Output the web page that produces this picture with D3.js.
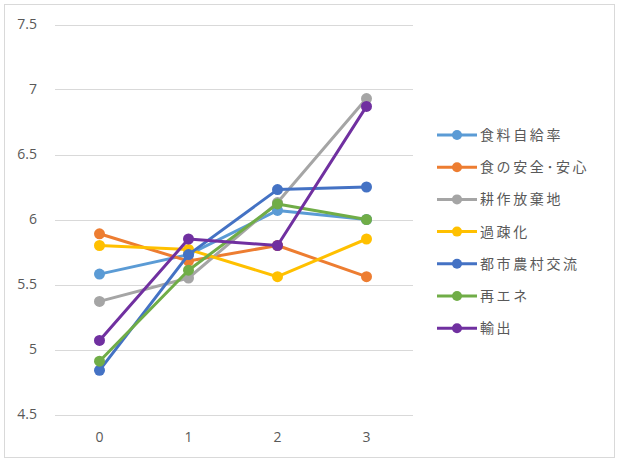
<!DOCTYPE html>
<html lang="ja">
<head>
    <meta charset="UTF-8">
    <title>Line chart</title>
    <script src="https://d3js.org/d3.v7.min.js"></script>
    <style>
        body { margin: 0; background: #fff; }
        .grid line { stroke: #d9d9d9; stroke-width: 1; }
        .axis text { fill: #595959; font-family: "Open Sans", "Liberation Sans", sans-serif; font-size: 14px; }
        .legend text { fill: #595959; font-family: "Noto Sans CJK JP", sans-serif; font-size: 14px; letter-spacing: 2.6px; }
    </style>
</head>
<body>
    <svg width="618" height="461"></svg>

    <script>
        // Data
        const categories = [0, 1, 2, 3];
        const seriesNames = ["食料自給率", "食の安全･安心", "耕作放棄地", "過疎化", "都市農村交流", "再エネ", "輸出"];
        const seriesColors = ["#5b9bd5", "#ed7d31", "#a5a5a5", "#ffc000", "#4472c4", "#70ad47", "#7030a0"];
        const foodSelfSufficiency = [5.58, 5.73, 6.07, 6.00];
        const foodSafety = [5.89, 5.68, 5.80, 5.56];
        const abandonedFarmland = [5.37, 5.55, 6.13, 6.93];
        const depopulation = [5.80, 5.77, 5.56, 5.85];
        const urbanRuralExchange = [4.84, 5.73, 6.23, 6.25];
        const renewableEnergy = [4.91, 5.61, 6.12, 6.00];
        const exportValues = [5.07, 5.85, 5.80, 6.87];
        const yTicks = [4.5, 5, 5.5, 6, 6.5, 7, 7.5];

        const allSeries = [foodSelfSufficiency, foodSafety, abandonedFarmland, depopulation,
            urbanRuralExchange, renewableEnergy, exportValues];

        const svg = d3.select("svg");

        // Chart frame
        svg.append("rect")
            .attr("x", 4.5).attr("y", 4.5)
            .attr("width", 610).attr("height", 453)
            .attr("fill", "none")
            .attr("stroke", "#d9d9d9");

        const plot = { left: 55, right: 411, top: 24.5, bottom: 414.5 };

        const x = d3.scaleBand().domain(categories).range([plot.left, plot.right]);
        const y = d3.scaleLinear().domain([4.5, 7.5]).range([plot.bottom, plot.top]);
        const cx = d => x(d) + x.bandwidth() / 2;

        // Gridlines
        svg.append("g").attr("class", "grid")
            .selectAll("line")
            .data(yTicks)
            .enter().append("line")
            .attr("x1", plot.left).attr("x2", 413)
            .attr("y1", d => Math.round(y(d)) + 0.5)
            .attr("y2", d => Math.round(y(d)) + 0.5);

        // Y axis labels
        const yAxis = d3.axisLeft(y).tickValues(yTicks).tickFormat(d3.format("~g")).tickSize(0).tickPadding(0);
        svg.append("g").attr("class", "axis")
            .attr("transform", "translate(37,0)")
            .call(yAxis)
            .call(g => g.select(".domain").remove());

        // X axis labels
        const xAxis = d3.axisBottom(x).tickSize(0).tickPadding(0);
        svg.append("g").attr("class", "axis")
            .attr("transform", "translate(0,432)")
            .call(xAxis)
            .call(g => g.select(".domain").remove());

        // Lines and markers
        const line = d3.line()
            .x((d, i) => cx(categories[i]))
            .y(d => y(d));

        allSeries.forEach((values, s) => {
            const g = svg.append("g");
            g.append("path")
                .datum(values)
                .attr("fill", "none")
                .attr("stroke", seriesColors[s])
                .attr("stroke-width", 3)
                .attr("stroke-linejoin", "round")
                .attr("d", line);
            g.selectAll("circle")
                .data(values)
                .enter().append("circle")
                .attr("cx", (d, i) => cx(categories[i]))
                .attr("cy", d => y(d))
                .attr("r", 5.5)
                .attr("fill", seriesColors[s]);
        });

        // Legend
        const legend = svg.append("g").attr("class", "legend")
            .attr("transform", "translate(437,135)");
        const item = legend.selectAll("g")
            .data(seriesNames)
            .enter().append("g")
            .attr("transform", (d, i) => `translate(0,${i * 32.2})`);
        item.append("line")
            .attr("x1", 0).attr("x2", 40)
            .attr("stroke", (d, i) => seriesColors[i])
            .attr("stroke-width", 3);
        item.append("circle")
            .attr("cx", 20).attr("r", 5)
            .attr("fill", (d, i) => seriesColors[i]);
        item.append("text")
            .attr("x", 43)
            .attr("dy", "0.35em")
            .text(d => d);
    </script>
</body>
</html>
